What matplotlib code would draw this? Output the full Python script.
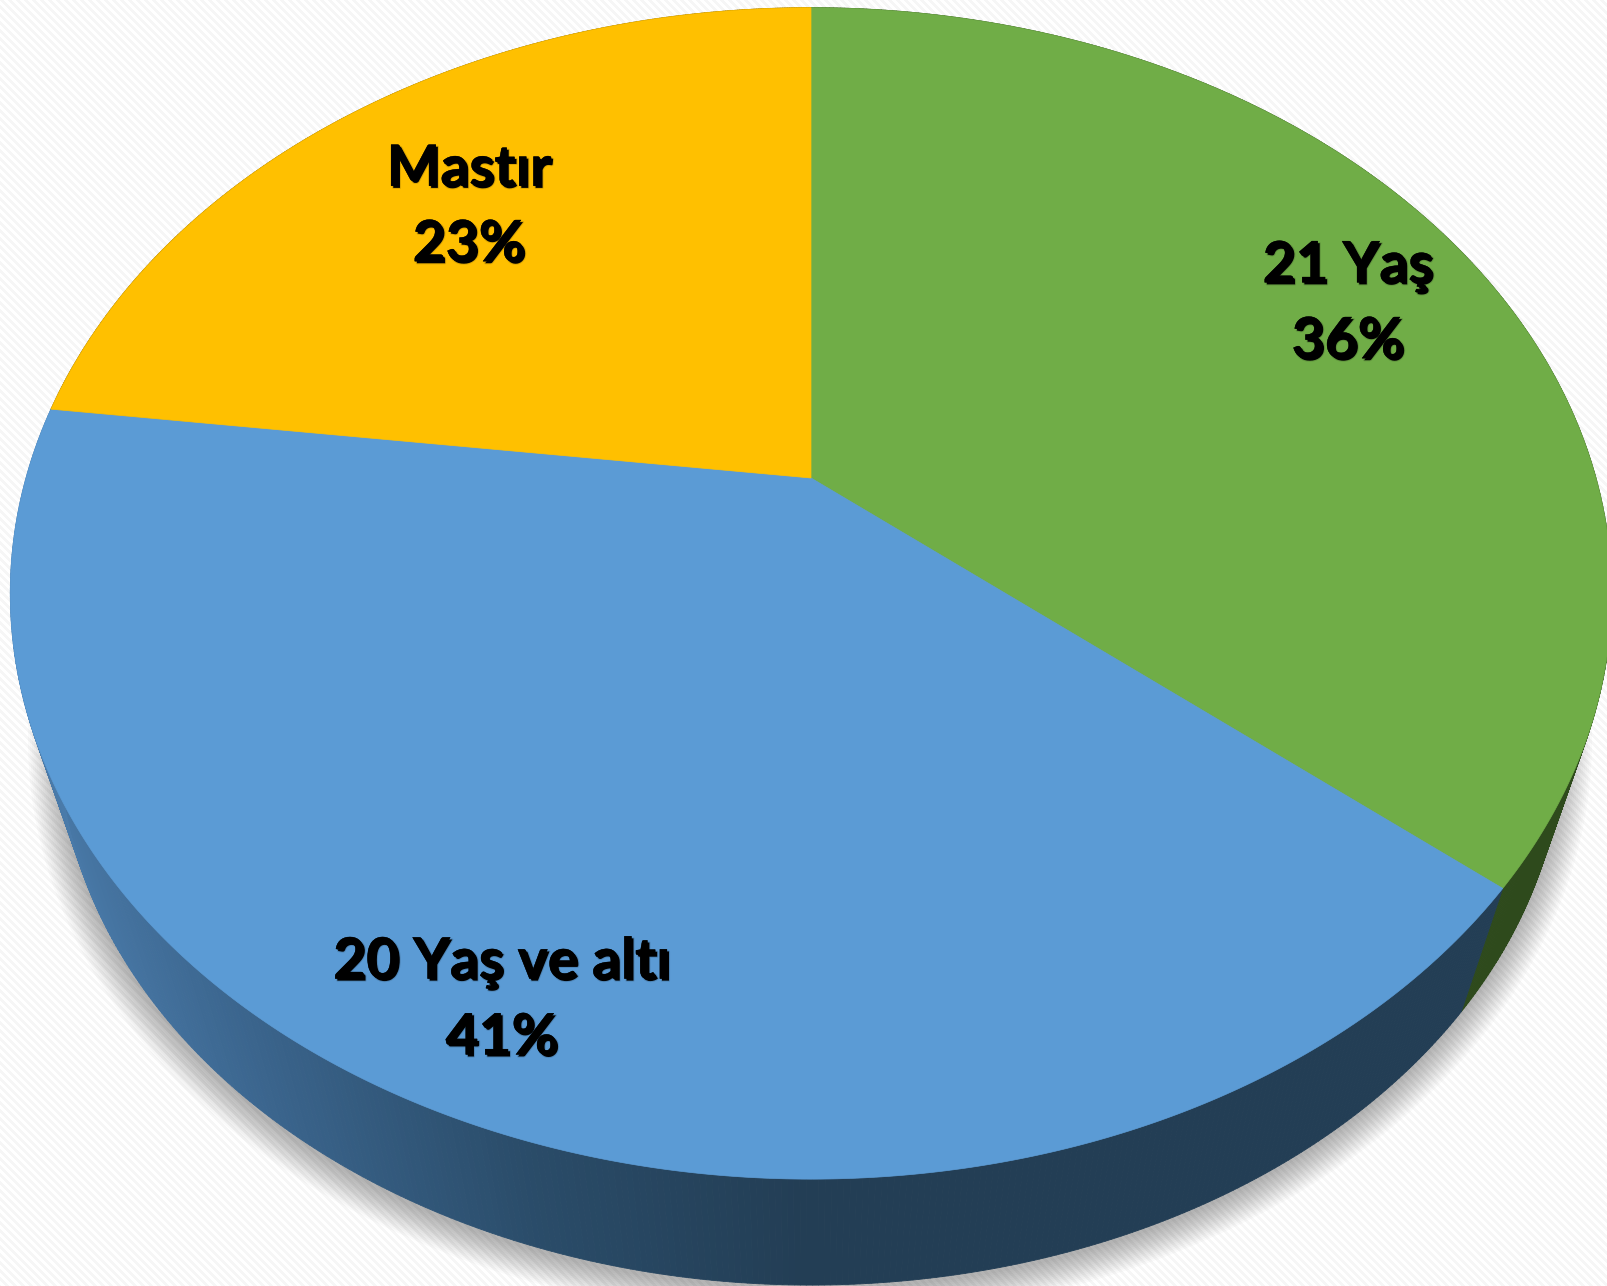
import numpy as np
import matplotlib
matplotlib.use("Agg")
import matplotlib.pyplot as plt
import matplotlib.patheffects as pe
from matplotlib.collections import PolyCollection
from matplotlib.colors import LinearSegmentedColormap
from matplotlib.patches import Ellipse, Polygon

W = 1607
H = 1286

categories = ["21 Yaş", "20 Yaş ve altı", "Mastır"]
values = [36, 41, 23]
top_colors = ["#70AD47", "#5B9BD5", "#FFC000"]
wall_colors = ["#2E4A1C", "#233E55", "#7F6000"]
label_xy = [(1348, 304), (502, 1000), (469, 207)]

# perspective of the tilted disc
APEX_X, APEX_Y = 811, 478
RX, RY, K = 785, 563, 0.197
WALL_SCALE, WALL_DROP = 0.94, 148

wall_cmap = LinearSegmentedColormap.from_list(
    "wall", [(0, "#4A7BAA"), (0.3, "#3A648C"), (0.65, "#2A4C69"), (1, "#233E55")])


def rim(t, scale=1.0, drop=0.0):
    # t is in degrees clockwise from 12 o'clock
    t = np.radians(t)
    w = 1 + K * np.cos(t)
    x = APEX_X + scale * RX * np.sin(t) / w
    y = APEX_Y + drop - scale * RY * np.cos(t) / w
    return np.column_stack([x, y])


fig = plt.figure(figsize=(W / 100, H / 100), dpi=100)
ax = fig.add_axes([0, 0, 1, 1])
ax.axis("off")

# faint diagonal stripes behind everything
yy, xx = np.mgrid[0:H, 0:W]
stripes = ((xx - yy) % 8 < 4).astype(float)
stripe_cmap = LinearSegmentedColormap.from_list("bg", ["#FFFFFF", "#F6F6F6"])
ax.imshow(stripes, cmap=stripe_cmap, extent=(0, W, H, 0), aspect="auto", zorder=0)

# soft shadow under the disc
for g in range(0, 32, 2):
    ax.add_patch(Ellipse((810, 740), 2 * (752 + g), 2 * (550 + g), fc="black", ec="none",
                         alpha=0.019, zorder=1))

edges = np.cumsum([0] + values) / sum(values) * 360

# side wall, thin quads between top and bottom rim so the silhouette is tangent
for i in range(len(values)):
    t = np.linspace(edges[i], edges[i + 1], 400)
    a = rim(t)
    b = rim(t, WALL_SCALE, WALL_DROP)
    quads = np.stack([a[:-1], a[1:], b[1:], b[:-1]], axis=1)
    if categories[i].startswith("20"):
        mid_x = quads[:, :, 0].mean(axis=1)
        colors = wall_cmap(np.clip((mid_x - 40) / 760, 0, 1))
    else:
        colors = wall_colors[i]
    ax.add_collection(PolyCollection(quads, facecolors=colors, edgecolors=colors, linewidths=0.6, zorder=2))

# top face
for i in range(len(values)):
    t = np.linspace(edges[i], edges[i + 1], 300)
    pts = np.vstack([[APEX_X, APEX_Y], rim(t)])
    ax.add_patch(Polygon(pts, fc=top_colors[i], ec=top_colors[i], lw=0.5, zorder=3))

for name, v, (lx, ly) in zip(categories, values, label_xy):
    ax.text(lx, ly, f"{name}\n{v}%", ha="center", va="center", family="Lato", weight="bold",
            fontsize=41, color="black", linespacing=1.52, zorder=5,
            path_effects=[pe.Stroke(linewidth=1.5, foreground=(0, 0, 0, 0.13), offset=(1.5, -1.5)),
                          pe.Stroke(linewidth=0.3, foreground="black"), pe.Normal()])

ax.set_xlim(0, W)
ax.set_ylim(H, 0)

fig.savefig("out.png", dpi=100)
